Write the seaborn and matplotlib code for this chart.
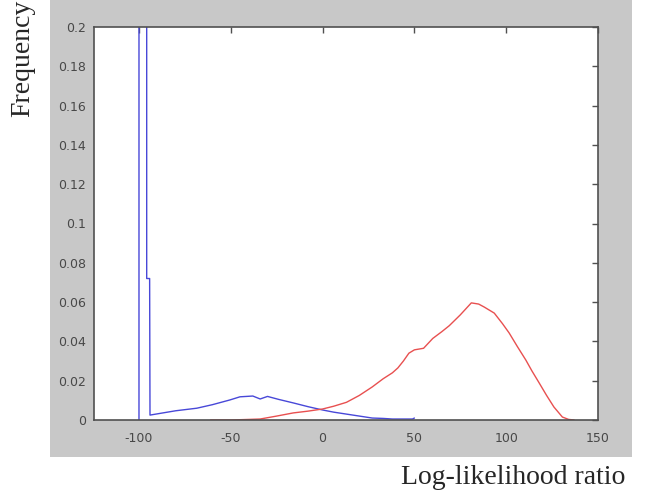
import numpy as np
import pandas as pd
import matplotlib
matplotlib.use("Agg")
import matplotlib.pyplot as plt
import seaborn as sns
from matplotlib.patches import Rectangle

# curva azul (no coincidentes)
blue_x = [-100, -100, -95.8, -95.8, -94.2, -94, -87, -80, -68.5, -60, -50.5, -45, -38,
          -34, -30, -24, -16, -8, 0, 6, 13, 20, 27, 33, 38, 44, 49, 50]
blue_y = [0, 0.9, 0.9, 0.072, 0.072, 0.0025, 0.0036, 0.0047, 0.006, 0.0078, 0.0102, 0.0118, 0.0122,
          0.0107, 0.012, 0.0105, 0.0087, 0.0068, 0.0051, 0.004, 0.003, 0.002, 0.001, 0.0008, 0.0005,
          0.0005, 0.0005, 0.001]

# curva roja (coincidentes)
red_x = [-61, -50, -40, -34, -25, -16, -8, 0, 6, 13, 20, 27, 33, 38, 41, 44, 47, 50, 55, 60,
         65, 69, 75, 81, 85, 88, 93.5, 98, 101.6, 106, 110.7, 114, 118, 122, 126, 130.6, 134, 137]
red_y = [0, 0, 0.0003, 0.0005, 0.002, 0.0036, 0.0045, 0.0056, 0.007, 0.009, 0.0125, 0.0168, 0.021,
         0.024, 0.0265, 0.030, 0.034, 0.0357, 0.0365, 0.0415, 0.045, 0.048, 0.0535, 0.0596, 0.059,
         0.0575, 0.0544, 0.049, 0.0443, 0.0375, 0.0305, 0.025, 0.0188, 0.0125, 0.0066, 0.0015, 0.0003, 0]

x_ticks = [-100, -50, 0, 50, 100, 150]
y_ticks = [0, 0.02, 0.04, 0.06, 0.08, 0.1, 0.12, 0.14, 0.16, 0.18, 0.2]
y_labels = ["0", "0.02", "0.04", "0.06", "0.08", "0.1", "0.12", "0.14", "0.16", "0.18", "0.2"]

sns.set_style("white")

fig = plt.figure(figsize=(6.49, 4.95), dpi=100)
fig.patch.set_facecolor("white")

# fondo gris estilo matlab
fig.patches.append(Rectangle((50 / 649, 38 / 495), 582 / 649, 457 / 495,
                             transform=fig.transFigure, facecolor="#c8c8c8",
                             edgecolor="none", zorder=-10))

ax = fig.add_axes([94 / 649, 75 / 495, 504 / 649, 393 / 495])
ax.set_zorder(1)
ax.set_facecolor("white")

sns.lineplot(x=blue_x, y=blue_y, sort=False, estimator=None, color="#4848d8",
             linewidth=1.0, ax=ax)
sns.lineplot(x=red_x, y=red_y, sort=False, estimator=None, color="#e85050",
             linewidth=1.0, ax=ax)

ax.set_xlim(-124.5, 150)
ax.set_ylim(0, 0.2)
ax.set_xticks(x_ticks)
ax.set_xticklabels([str(t) for t in x_ticks])
ax.set_yticks(y_ticks)
ax.set_yticklabels(y_labels)
ax.tick_params(direction="in", length=4, width=1, colors="#505050", labelsize=9,
               top=True, right=True, labelcolor="#484848", pad=6)
ax.tick_params(axis="x", pad=9)

for sp in ax.spines.values():
    sp.set_color("#505050")
    sp.set_linewidth(1.2)

ax.set_xlabel("")
ax.set_ylabel("")

fig.text(23 / 649, 1 - 58 / 495, "Frequency", rotation=90, ha="center", va="center",
         fontsize=20, family="Liberation Serif")
fig.text(625 / 649, 1 - 478 / 495, "Log-likelihood ratio", ha="right", va="center",
         fontsize=20, family="Liberation Serif")

plt.savefig("out.png", dpi=100)
